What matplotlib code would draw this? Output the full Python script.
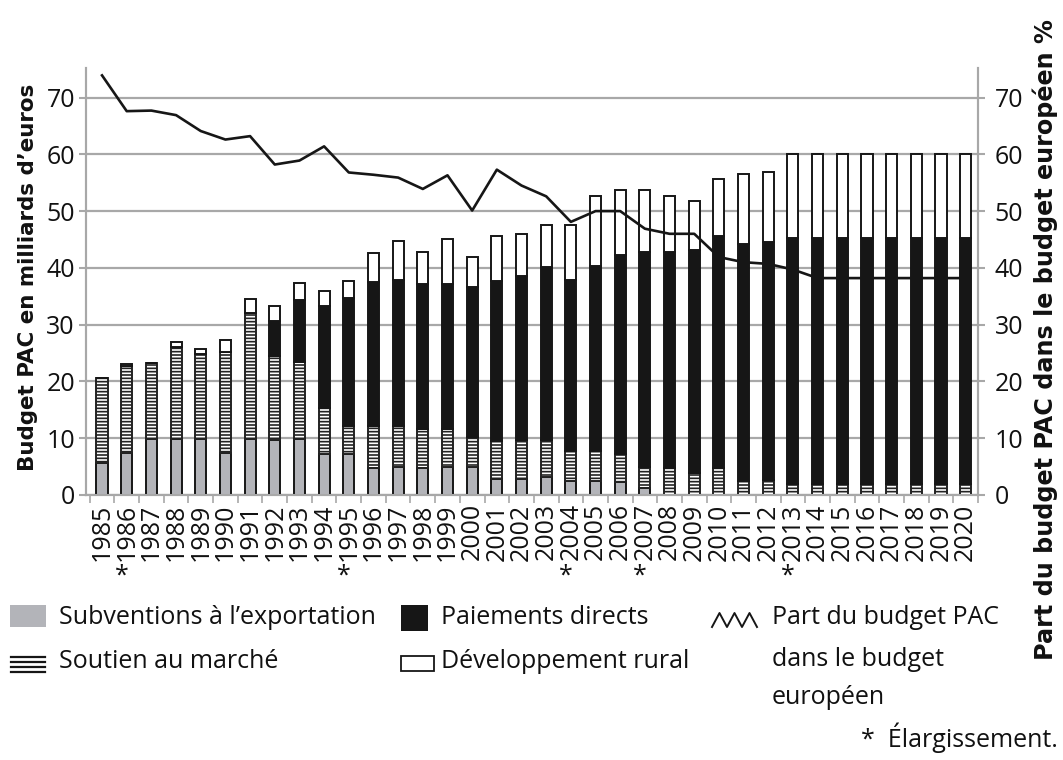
import matplotlib
matplotlib.use('Agg')
import matplotlib.pyplot as plt
import numpy as np
from matplotlib.patches import Rectangle
from matplotlib.lines import Line2D
import matplotlib.transforms as mtransforms

# ---------------- data ----------------
years = ['1985', '1986', '1987', '1988', '1989', '1990', '1991', '1992', '1993',
         '1994', '1995', '1996', '1997', '1998', '1999', '2000', '2001', '2002',
         '2003', '2004', '2005', '2006', '2007', '2008', '2009', '2010', '2011',
         '2012', '2013', '2014', '2015', '2016', '2017', '2018', '2019', '2020']
enlargement_years = ['1986', '1995', '2004', '2007', '2013']

export_subsidies = [5.7, 7.4, 9.8, 9.8, 9.8, 7.4, 9.8, 9.6, 9.8, 7.3, 7.2, 4.8,
                    5.0, 4.8, 5.0, 4.9, 2.8, 2.8, 3.2, 2.5, 2.5, 2.3, 1.3, 0.0,
                    0.0, 0.0, 0.0, 0.0, 0.0, 0.0, 0.0, 0.0, 0.0, 0.0, 0.0, 0.0]
market_support = [14.9, 15.4, 13.4, 16.2, 15.0, 17.7, 22.2, 14.8, 13.7, 8.0, 5.0, 7.4,
                  7.2, 6.8, 6.6, 5.4, 6.7, 6.9, 6.5, 5.3, 5.3, 4.9, 3.7, 4.7,
                  3.8, 4.7, 2.5, 2.6, 2.0, 2.0, 2.0, 2.0, 2.0, 2.0, 2.0, 2.0]
direct_payments = [0.0, 0.0, 0.0, 0.0, 0.0, 0.0, 0.0, 6.3, 10.9, 17.9, 22.5, 25.4,
                   25.7, 25.6, 25.6, 26.3, 28.2, 28.8, 30.4, 30.1, 32.5, 35.1, 37.8, 38.1,
                   39.4, 41.0, 41.7, 41.9, 43.2, 43.2, 43.2, 43.2, 43.2, 43.2, 43.2, 43.2]
rural_development = [0.0, 0.2, 0.0, 0.9, 0.9, 2.2, 2.5, 2.5, 2.9, 2.8, 2.9, 5.0,
                     6.8, 5.6, 7.9, 5.4, 7.9, 7.5, 7.4, 9.6, 12.3, 11.5, 10.9, 9.8,
                     8.5, 10.0, 12.4, 12.3, 14.8, 14.8, 14.8, 14.8, 14.8, 14.8, 14.8, 14.8]
cap_share = [73.9, 67.6, 67.7, 66.9, 64.1, 62.6, 63.2, 58.2, 58.9, 61.4, 56.8, 56.4,
             55.9, 53.9, 56.3, 50.1, 57.3, 54.5, 52.6, 48.1, 50.0, 50.0, 46.9, 46.0,
             46.0, 41.9, 41.0, 40.7, 39.7, 38.2, 38.2, 38.2, 38.2, 38.2, 38.2, 38.2]
y_ticks = [0, 10, 20, 30, 40, 50, 60, 70]

# ---------------- style ----------------
plt.rcParams['font.family'] = ['Open Sans', 'DejaVu Sans']
plt.rcParams['hatch.linewidth'] = 1.2
GREY = '#b3b4b9'
BLACK = '#161616'
AXGREY = '#a8a8a8'

W, H = 1063, 760
fig = plt.figure(figsize=(W / 100, H / 100), dpi=100)
ax = fig.add_axes([86 / W, 1 - 495 / H, (978 - 86) / W, (495 - 68) / H])

x = np.arange(len(years))
e = np.array(export_subsidies)
m = np.array(market_support)
d = np.array(direct_payments)
r = np.array(rural_development)
bw = 0.45
lw = 1.4

ax.bar(x, e, bw, color=GREY, edgecolor=BLACK, linewidth=lw, zorder=3)
plt.rcParams['hatch.color'] = '#2a2a2a'
ax.bar(x, m, bw, bottom=e, color='white', edgecolor='#222222', hatch='-----',
       linewidth=lw, zorder=3)
ax.bar(x, d, bw, bottom=e + m, color=BLACK, edgecolor=BLACK, linewidth=lw, zorder=3)
ax.bar(x, r, bw, bottom=e + m + d, color='white', edgecolor=BLACK, linewidth=lw, zorder=3)

ymax = 75.2
ax.set_ylim(0, ymax)
ax.set_xlim(-0.65, 35.5)
ax.set_yticks(y_ticks)
ax.yaxis.grid(True, color=AXGREY, linewidth=1.6)
ax.set_axisbelow(True)

ax.set_xticks(x)
ax.set_xticklabels(years, rotation=90, fontsize=18, color='#111111')
ax.set_xticks(np.append(x - 0.5, x[-1] + 0.5), minor=True)
ax.tick_params(axis='x', which='major', length=0, pad=6)
ax.tick_params(axis='x', which='minor', length=6, color=AXGREY, width=1.2)
ax.tick_params(axis='y', length=5, color=AXGREY, width=1.5, labelsize=18,
               pad=3, labelcolor='#111111')

ax.spines['top'].set_visible(False)
for s in ['left', 'right', 'bottom']:
    ax.spines[s].set_color(AXGREY)
    ax.spines[s].set_linewidth(1.5)

ax2 = ax.twinx()
ax2.set_ylim(0, ymax)
ax2.set_yticks(y_ticks)
ax2.plot(x, cap_share, color=BLACK, linewidth=1.9, zorder=5)
ax2.tick_params(axis='y', length=5, color=AXGREY, width=1.5, labelsize=18,
                pad=7, labelcolor='#111111')
ax2.spines['top'].set_visible(False)
for s in ['left', 'right', 'bottom']:
    ax2.spines[s].set_color(AXGREY)
    ax2.spines[s].set_linewidth(1.5)

# enlargement asterisks
trans = mtransforms.blended_transform_factory(ax.transData, ax.transAxes)
for yr in enlargement_years:
    i = years.index(yr)
    ax.text(i - 0.2, -0.19, '*', transform=trans, ha='center', va='center',
            fontsize=18, color='#111111')

# axis titles
fig.text(28 / W, 1 - 277 / H, "Budget PAC en milliards d’euros", rotation=90,
         ha='center', va='center', fontsize=15.4, fontweight='bold',
         family=['DejaVu Sans'], color='#111111')
fig.text(1045 / W, 1 - 340 / H, "Part du budget PAC dans le budget européen %",
         rotation=90, ha='center', va='center', fontsize=17.2, fontweight='bold',
         family=['DejaVu Sans'], color='#111111')

# ---------------- legend (manual) ----------------
def fx(px):
    return px / W

def fy(py):
    return 1 - py / H

LFS = 18
tc = '#111111'
# grey square
fig.patches.append(Rectangle((fx(10), fy(627)), 36 / W, 22 / H, transform=fig.transFigure,
                             facecolor=GREY, edgecolor='none'))
fig.text(fx(59), fy(618), "Subventions à l’exportation", fontsize=LFS, va='center',
         ha='left', color=tc)
# hatch symbol
for yy in [657, 662, 667, 672]:
    fig.lines.append(Line2D([fx(11), fx(45)], [fy(yy), fy(yy)], transform=fig.transFigure,
                            color=BLACK, linewidth=1.6))
fig.text(fx(59), fy(661), "Soutien au marché", fontsize=LFS, va='center', ha='left', color=tc)
# black square
fig.patches.append(Rectangle((fx(401), fy(631)), 27 / W, 26 / H, transform=fig.transFigure,
                             facecolor=BLACK, edgecolor='none'))
fig.text(fx(441), fy(618), "Paiements directs", fontsize=LFS, va='center', ha='left', color=tc)
# white square
fig.patches.append(Rectangle((fx(401), fy(671)), 33 / W, 15 / H, transform=fig.transFigure,
                             facecolor='white', edgecolor=BLACK, linewidth=1.3))
fig.text(fx(441), fy(661), "Développement rural", fontsize=LFS, va='center', ha='left', color=tc)
# zigzag line symbol
zx = [712, 719.5, 727, 734.5, 742, 749.5, 757]
zy = [627, 613, 627, 613, 627, 613, 627]
fig.lines.append(Line2D([fx(v) for v in zx], [fy(v) for v in zy], transform=fig.transFigure,
                        color=BLACK, linewidth=1.4))
fig.text(fx(772), fy(618), "Part du budget PAC", fontsize=LFS, va='center', ha='left', color=tc)
fig.text(fx(772), fy(660), "dans le budget", fontsize=LFS, va='center', ha='left', color=tc)
fig.text(fx(772), fy(697), "européen", fontsize=LFS, va='center', ha='left', color=tc)

fig.text(fx(1058), fy(738), "*  Élargissement.", fontsize=LFS, va='center', ha='right', color=tc)

fig.savefig('out.png', dpi=100, facecolor='white')
